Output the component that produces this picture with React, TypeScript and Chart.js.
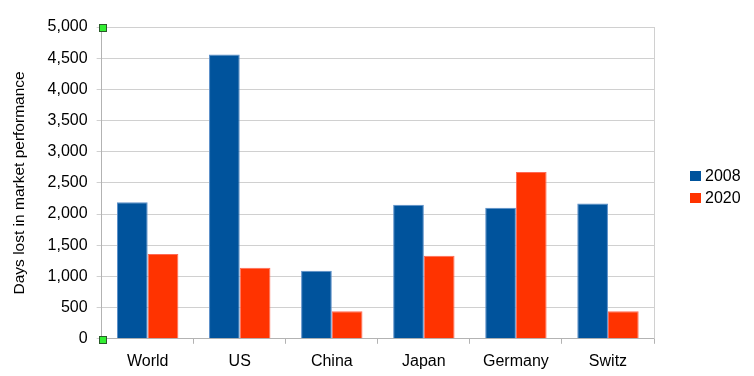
import React, { useEffect, useRef } from "react";
import { Chart, registerables } from "chart.js";

Chart.register(...registerables);

const categories = ["World", "US", "China", "Japan", "Germany", "Switz"];
const series2008 = [2190, 4560, 1090, 2150, 2100, 2170];
const series2020 = [1360, 1140, 440, 1330, 2675, 440];
const seriesLabels = ["2008", "2020"];
const yTitle = "Days lost in market performance";

const FONT = "'Liberation Sans', Arial, sans-serif";

const framePlugin = {
  id: "frame",
  afterDraw(chart: any) {
    const { ctx, chartArea, scales } = chart;
    ctx.save();
    ctx.strokeStyle = "#d0d0d0";
    ctx.lineWidth = 1;
    ctx.beginPath();
    ctx.moveTo(Math.round(chartArea.right) + 0.5, chartArea.top);
    ctx.lineTo(Math.round(chartArea.right) + 0.5, chartArea.bottom);
    ctx.stroke();
    const x = scales.x.left;
    const ys = [scales.y.getPixelForValue(5000), scales.y.getPixelForValue(0)];
    ctx.fillStyle = "#33ee33";
    ctx.strokeStyle = "#2a5a2a";
    for (const y of ys) {
      const sx = Math.round(x) - 3;
      const sy = Math.round(y) - 3;
      ctx.fillRect(sx, sy, 8, 8);
      ctx.strokeRect(sx + 0.5, sy + 0.5, 7, 7);
    }
    // legend
    const datasets = chart.data.datasets;
    const cy = (chartArea.top + chartArea.bottom) / 2;
    const rowH = 22;
    const startY = cy - ((datasets.length - 1) * rowH) / 2 + 4;
    const boxX = chartArea.right + 36;
    ctx.font = `16px ${FONT}`;
    ctx.textBaseline = "middle";
    ctx.textAlign = "left";
    datasets.forEach((ds: any, i: number) => {
      const y = startY + i * rowH;
      ctx.fillStyle = ds.backgroundColor;
      ctx.fillRect(boxX, Math.round(y) - 5, 11, 10);
      ctx.fillStyle = "#000";
      ctx.fillText(ds.label, boxX + 15, y + 1);
    });
    ctx.restore();
  },
};

export default function App() {
  const ref = useRef<HTMLCanvasElement | null>(null);
  useEffect(() => {
    document.body.style.margin = "0";
    const chart = new Chart(ref.current as HTMLCanvasElement, {
      type: "bar",
      data: {
        labels: categories,
        datasets: [
          {
            label: seriesLabels[0],
            data: series2008,
            backgroundColor: "#00539c",
            borderColor: "#5b8fc9",
            borderWidth: 1,
            categoryPercentage: 0.667,
            barPercentage: 1,
          },
          {
            label: seriesLabels[1],
            data: series2020,
            backgroundColor: "#ff3300",
            borderColor: "#ff6a55",
            borderWidth: 1,
            categoryPercentage: 0.667,
            barPercentage: 1,
          },
        ],
      },
      options: {
        animation: false,
        responsive: false,
        maintainAspectRatio: false,
        layout: { padding: { top: 27, left: 8, right: 100, bottom: -3 } },
        plugins: {
          tooltip: { enabled: false },
          legend: { display: false },
        },
        scales: {
          x: {
            offset: true,
            grid: {
              offset: true,
              drawOnChartArea: false,
              drawTicks: true,
              tickLength: 5,
              color: "#b3b3b3",
            },
            border: { color: "#b3b3b3" },
            ticks: { color: "#000", font: { family: FONT, size: 16 }, padding: 8 },
          },
          y: {
            min: 0,
            max: 5000,
            ticks: {
              stepSize: 500,
              color: "#000",
              font: { family: FONT, size: 16 },
              padding: 9,
              callback: (v: any) => Number(v).toLocaleString("en-US"),
            },
            grid: { color: "#d0d0d0", tickLength: 5 },
            border: { color: "#b3b3b3" },
            title: {
              display: true,
              text: yTitle,
              color: "#000",
              font: { family: FONT, size: 15.5 },
              padding: { top: 2, bottom: 10 },
            },
          },
        },
      },
      plugins: [framePlugin],
    });
    return () => chart.destroy();
  }, []);
  return (
    <div style={{ position: "fixed", left: 0, top: 0, width: 754, height: 376, background: "#fff" }}>
      <canvas ref={ref} width={754} height={376} />
    </div>
  );
}
